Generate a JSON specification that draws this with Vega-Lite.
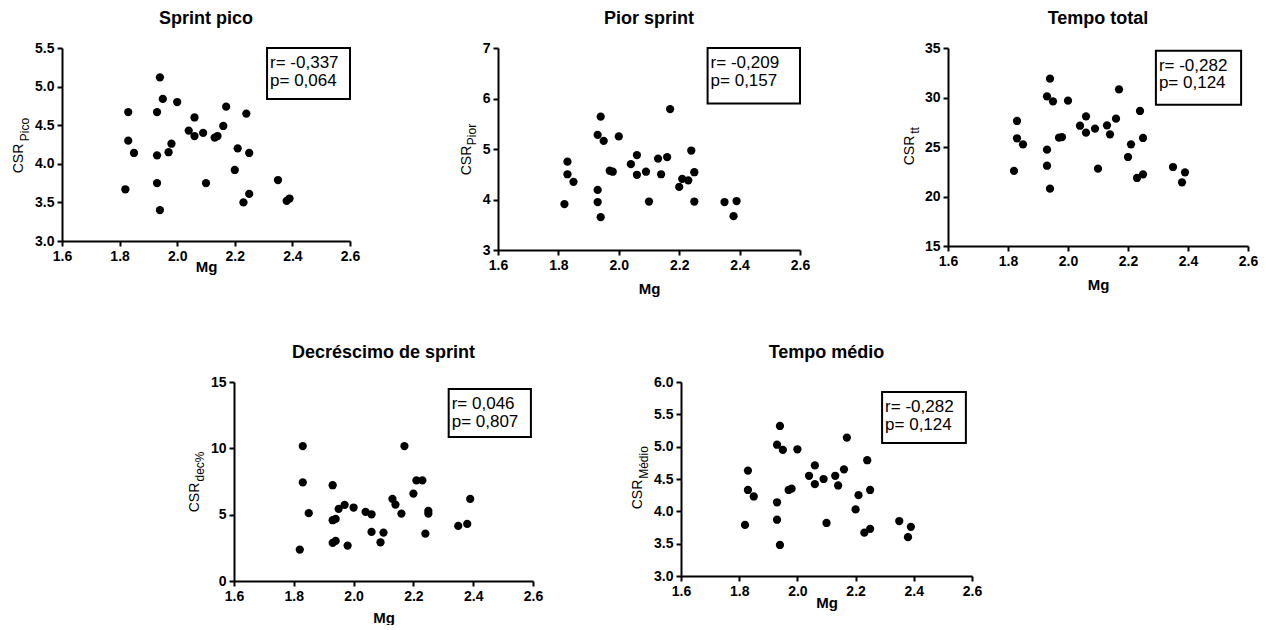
{
  "$schema": "https://vega.github.io/schema/vega-lite/v6.json",
  "padding": {"left": 11, "top": 10, "right": 0, "bottom": 0},
  "config": {
    "font": "Liberation Sans",
    "view": {"stroke": null},
    "axis": {"grid": false, "domainColor": "black", "domainWidth": 2, "tickColor": "black", "tickWidth": 2, "tickSize": 5, "labelColor": "black", "labelFont": "Liberation Sans", "labelFontSize": 14, "labelFontWeight": "bold", "labelPadding": 3, "labelFlush": false, "labelOverlap": false, "titleColor": "black", "titleFont": "Liberation Sans"},
    "axisX": {"titleFontSize": 15, "titleFontWeight": "bold", "titleBaseline": "alphabetic"},
    "axisY": {"titleFontSize": 14, "titleFontWeight": "normal", "titleAngle": 270, "titleAlign": "center", "titleBaseline": "alphabetic"},
    "title": {"font": "Liberation Sans", "fontSize": 18, "fontWeight": "bold", "color": "black", "anchor": "middle", "frame": "group", "offset": 13, "baseline": "alphabetic"}
  },
  "datasets": {
    "pts": [
      {"mg": 1.82, "pico": 3.67, "pior": 3.91, "tt": 22.58, "dec": 2.37, "medio": 3.79},
      {"mg": 1.83, "pico": 4.67, "pior": 4.75, "tt": 27.63, "dec": 10.17, "medio": 4.63},
      {"mg": 1.83, "pico": 4.30, "pior": 4.50, "tt": 25.88, "dec": 7.43, "medio": 4.33},
      {"mg": 1.85, "pico": 4.14, "pior": 4.35, "tt": 25.27, "dec": 5.11, "medio": 4.23},
      {"mg": 1.93, "pico": 4.67, "pior": 5.28, "tt": 30.12, "dec": 7.22, "medio": 5.03},
      {"mg": 1.93, "pico": 4.11, "pior": 4.19, "tt": 24.73, "dec": 4.58, "medio": 4.14},
      {"mg": 1.93, "pico": 3.75, "pior": 3.95, "tt": 23.11, "dec": 2.87, "medio": 3.87},
      {"mg": 1.94, "pico": 5.12, "pior": 5.64, "tt": 31.90, "dec": 4.68, "medio": 5.32},
      {"mg": 1.94, "pico": 3.40, "pior": 3.65, "tt": 20.79, "dec": 3.02, "medio": 3.48},
      {"mg": 1.95, "pico": 4.84, "pior": 5.16, "tt": 29.61, "dec": 5.44, "medio": 4.95},
      {"mg": 1.97, "pico": 4.15, "pior": 4.57, "tt": 25.94, "dec": 5.74, "medio": 4.33},
      {"mg": 1.98, "pico": 4.26, "pior": 4.55, "tt": 26.00, "dec": 2.67, "medio": 4.35},
      {"mg": 2.00, "pico": 4.80, "pior": 5.25, "tt": 29.68, "dec": 5.54, "medio": 4.96},
      {"mg": 2.04, "pico": 4.43, "pior": 4.70, "tt": 27.15, "dec": 5.21, "medio": 4.55},
      {"mg": 2.06, "pico": 4.60, "pior": 4.88, "tt": 28.10, "dec": 5.03, "medio": 4.71},
      {"mg": 2.06, "pico": 4.36, "pior": 4.49, "tt": 26.45, "dec": 3.70, "medio": 4.42},
      {"mg": 2.09, "pico": 4.40, "pior": 4.55, "tt": 26.85, "dec": 2.92, "medio": 4.50},
      {"mg": 2.10, "pico": 3.75, "pior": 3.96, "tt": 22.81, "dec": 3.65, "medio": 3.82},
      {"mg": 2.13, "pico": 4.34, "pior": 4.81, "tt": 27.19, "dec": 6.19, "medio": 4.55},
      {"mg": 2.14, "pico": 4.36, "pior": 4.50, "tt": 26.28, "dec": 5.76, "medio": 4.40},
      {"mg": 2.16, "pico": 4.49, "pior": 4.84, "tt": 27.86, "dec": 5.08, "medio": 4.65},
      {"mg": 2.17, "pico": 4.74, "pior": 5.79, "tt": 30.82, "dec": 10.17, "medio": 5.14},
      {"mg": 2.20, "pico": 3.92, "pior": 4.25, "tt": 23.99, "dec": 6.59, "medio": 4.03},
      {"mg": 2.21, "pico": 4.20, "pior": 4.41, "tt": 25.27, "dec": 7.58, "medio": 4.25},
      {"mg": 2.23, "pico": 3.50, "pior": 4.38, "tt": 21.87, "dec": 7.58, "medio": 3.67},
      {"mg": 2.24, "pico": 4.65, "pior": 4.97, "tt": 28.64, "dec": 3.57, "medio": 4.79},
      {"mg": 2.25, "pico": 4.14, "pior": 4.54, "tt": 25.91, "dec": 5.29, "medio": 4.33},
      {"mg": 2.25, "pico": 3.61, "pior": 3.96, "tt": 22.24, "dec": 5.08, "medio": 3.73},
      {"mg": 2.35, "pico": 3.79, "pior": 3.95, "tt": 22.98, "dec": 4.15, "medio": 3.85},
      {"mg": 2.38, "pico": 3.52, "pior": 3.67, "tt": 21.43, "dec": 4.30, "medio": 3.60},
      {"mg": 2.39, "pico": 3.55, "pior": 3.97, "tt": 22.44, "dec": 6.19, "medio": 3.76}
    ]
  },
  "spacing": 48,
  "vconcat": [
    {
      "spacing": 148,
      "bounds": "flush",
      "hconcat": [
        {
          "width": 288, "height": 193,
          "title": {"text": "Sprint pico"},
          "data": {"name": "pts"},
          "layer": [
            {
              "mark": {"type": "circle", "size": 68, "color": "black", "opacity": 1},
              "encoding": {
                "x": {"field": "mg", "type": "quantitative", "scale": {"domain": [1.6, 2.6], "nice": false, "zero": false}, "axis": {"values": [1.6, 1.8, 2.0, 2.2, 2.4, 2.6], "format": ".1f", "title": "Mg", "titleY": 30}},
                "y": {"field": "pico", "type": "quantitative", "scale": {"domain": [3, 5.5], "nice": false, "zero": false}, "axis": {"values": [3, 3.5, 4, 4.5, 5, 5.5], "format": ".1f", "title": "CSR", "titleX": -40, "titleY": 110}}
              }
            },
            {
              "data": {"values": [{"label": "r= -0,337\np= 0,064"}]},
              "mark": {"type": "rect", "filled": false, "color": "black", "strokeWidth": 2},
              "encoding": {
                "x": {"datum": 2.312, "scale": {"domain": [1.6, 2.6], "nice": false, "zero": false}},
                "x2": {"datum": 2.6},
                "y": {"datum": 5.5, "scale": {"domain": [3, 5.5], "nice": false, "zero": false}, "axis": {"orient": "left", "domain": false, "ticks": false, "labels": false, "title": "Pico", "titleFontSize": 12, "titleX": -34, "titleY": 81}},
                "y2": {"datum": 4.84}
              }
            },
            {
              "data": {"values": [{"label": "r= -0,337\np= 0,064"}]},
              "mark": {"type": "text", "align": "left", "baseline": "top", "dx": 3, "dy": 7, "fontSize": 17, "lineHeight": 17.5, "lineBreak": "\n", "color": "black"},
              "encoding": {
                "x": {"datum": 2.312, "scale": {"domain": [1.6, 2.6], "nice": false, "zero": false}},
                "y": {"datum": 5.5, "scale": {"domain": [3, 5.5], "nice": false, "zero": false}, "axis": null},
                "text": {"field": "label"}
              }
            }
          ],
          "resolve": {"axis": {"y": "independent"}}
        },
        {
          "width": 302, "height": 202,
          "title": {"text": "Pior sprint"},
          "data": {"name": "pts"},
          "layer": [
            {
              "mark": {"type": "circle", "size": 68, "color": "black", "opacity": 1},
              "encoding": {
                "x": {"field": "mg", "type": "quantitative", "scale": {"domain": [1.6, 2.6], "nice": false, "zero": false}, "axis": {"values": [1.6, 1.8, 2.0, 2.2, 2.4, 2.6], "format": ".1f", "title": "Mg", "titleY": 43}},
                "y": {"field": "pior", "type": "quantitative", "scale": {"domain": [3, 7], "nice": false, "zero": false}, "axis": {"values": [3, 4, 5, 6, 7], "format": "d", "title": "CSR", "titleX": -28, "titleY": 112}}
              }
            },
            {
              "data": {"values": [{"label": "r= -0,209\np= 0,157"}]},
              "mark": {"type": "rect", "filled": false, "color": "black", "strokeWidth": 2},
              "encoding": {
                "x": {"datum": 2.294, "scale": {"domain": [1.6, 2.6], "nice": false, "zero": false}},
                "x2": {"datum": 2.6},
                "y": {"datum": 7, "scale": {"domain": [3, 7], "nice": false, "zero": false}, "axis": {"orient": "left", "domain": false, "ticks": false, "labels": false, "title": "Pior", "titleFontSize": 12, "titleX": -23, "titleY": 86}},
                "y2": {"datum": 5.9}
              }
            },
            {
              "data": {"values": [{"label": "r= -0,209\np= 0,157"}]},
              "mark": {"type": "text", "align": "left", "baseline": "top", "dx": 3, "dy": 7, "fontSize": 17, "lineHeight": 17.5, "lineBreak": "\n", "color": "black"},
              "encoding": {
                "x": {"datum": 2.294, "scale": {"domain": [1.6, 2.6], "nice": false, "zero": false}},
                "y": {"datum": 7, "scale": {"domain": [3, 7], "nice": false, "zero": false}, "axis": null},
                "text": {"field": "label"}
              }
            }
          ],
          "resolve": {"axis": {"y": "independent"}}
        },
        {
          "width": 300, "height": 198,
          "title": {"text": "Tempo total"},
          "data": {"name": "pts"},
          "layer": [
            {
              "mark": {"type": "circle", "size": 68, "color": "black", "opacity": 1},
              "encoding": {
                "x": {"field": "mg", "type": "quantitative", "scale": {"domain": [1.6, 2.6], "nice": false, "zero": false}, "axis": {"values": [1.6, 1.8, 2.0, 2.2, 2.4, 2.6], "format": ".1f", "title": "Mg", "titleY": 43}},
                "y": {"field": "tt", "type": "quantitative", "scale": {"domain": [15, 35], "nice": false, "zero": false}, "axis": {"values": [15, 20, 25, 30, 35], "format": "d", "title": "CSR", "titleX": -35, "titleY": 102}}
              }
            },
            {
              "data": {"values": [{"label": "r= -0,282\np= 0,124"}]},
              "mark": {"type": "rect", "filled": false, "color": "black", "strokeWidth": 2},
              "encoding": {
                "x": {"datum": 2.293, "scale": {"domain": [1.6, 2.6], "nice": false, "zero": false}},
                "x2": {"datum": 2.577},
                "y": {"datum": 34.73, "scale": {"domain": [15, 35], "nice": false, "zero": false}, "axis": {"orient": "left", "domain": false, "ticks": false, "labels": false, "title": "tt", "titleFontSize": 12, "titleX": -30, "titleY": 82}},
                "y2": {"datum": 29.27}
              }
            },
            {
              "data": {"values": [{"label": "r= -0,282\np= 0,124"}]},
              "mark": {"type": "text", "align": "left", "baseline": "top", "dx": 3, "dy": 7, "fontSize": 17, "lineHeight": 17.5, "lineBreak": "\n", "color": "black"},
              "encoding": {
                "x": {"datum": 2.293, "scale": {"domain": [1.6, 2.6], "nice": false, "zero": false}},
                "y": {"datum": 34.73, "scale": {"domain": [15, 35], "nice": false, "zero": false}, "axis": null},
                "text": {"field": "label"}
              }
            }
          ],
          "resolve": {"axis": {"y": "independent"}}
        }
      ]
    },
    {
      "spacing": 148,
      "bounds": "flush",
      "hconcat": [
        {
          "width": 24, "height": 10,
          "data": {"values": []},
          "mark": "point",
          "encoding": {}
        },
        {
          "width": 299, "height": 199,
          "title": {"text": "Decréscimo de sprint"},
          "data": {"name": "pts"},
          "layer": [
            {
              "mark": {"type": "circle", "size": 68, "color": "black", "opacity": 1},
              "encoding": {
                "x": {"field": "mg", "type": "quantitative", "scale": {"domain": [1.6, 2.6], "nice": false, "zero": false}, "axis": {"values": [1.6, 1.8, 2.0, 2.2, 2.4, 2.6], "format": ".1f", "title": "Mg", "titleY": 41}},
                "y": {"field": "dec", "type": "quantitative", "scale": {"domain": [0, 15], "nice": false, "zero": false}, "axis": {"values": [0, 5, 10, 15], "format": "d", "title": "CSR", "titleX": -36, "titleY": 115}}
              }
            },
            {
              "data": {"values": [{"label": "r= 0,046\np= 0,807"}]},
              "mark": {"type": "rect", "filled": false, "color": "black", "strokeWidth": 2},
              "encoding": {
                "x": {"datum": 2.318, "scale": {"domain": [1.6, 2.6], "nice": false, "zero": false}},
                "x2": {"datum": 2.593},
                "y": {"datum": 14.47, "scale": {"domain": [0, 15], "nice": false, "zero": false}, "axis": {"orient": "left", "domain": false, "ticks": false, "labels": false, "title": "dec%", "titleFontSize": 12, "titleX": -31, "titleY": 84}},
                "y2": {"datum": 10.85}
              }
            },
            {
              "data": {"values": [{"label": "r= 0,046\np= 0,807"}]},
              "mark": {"type": "text", "align": "left", "baseline": "top", "dx": 3, "dy": 7, "fontSize": 17, "lineHeight": 17.5, "lineBreak": "\n", "color": "black"},
              "encoding": {
                "x": {"datum": 2.318, "scale": {"domain": [1.6, 2.6], "nice": false, "zero": false}},
                "y": {"datum": 14.47, "scale": {"domain": [0, 15], "nice": false, "zero": false}, "axis": null},
                "text": {"field": "label"}
              }
            }
          ],
          "resolve": {"axis": {"y": "independent"}}
        },
        {
          "width": 291, "height": 194,
          "title": {"text": "Tempo médio"},
          "data": {"name": "pts"},
          "layer": [
            {
              "mark": {"type": "circle", "size": 68, "color": "black", "opacity": 1},
              "encoding": {
                "x": {"field": "mg", "type": "quantitative", "scale": {"domain": [1.6, 2.6], "nice": false, "zero": false}, "axis": {"values": [1.6, 1.8, 2.0, 2.2, 2.4, 2.6], "format": ".1f", "title": "Mg", "titleY": 31}},
                "y": {"field": "medio", "type": "quantitative", "scale": {"domain": [3, 6], "nice": false, "zero": false}, "axis": {"values": [3, 3.5, 4, 4.5, 5, 5.5, 6], "format": ".1f", "title": "CSR", "titleX": -40, "titleY": 112}}
              }
            },
            {
              "data": {"values": [{"label": "r= -0,282\np= 0,124"}]},
              "mark": {"type": "rect", "filled": false, "color": "black", "strokeWidth": 2},
              "encoding": {
                "x": {"datum": 2.291, "scale": {"domain": [1.6, 2.6], "nice": false, "zero": false}},
                "x2": {"datum": 2.579},
                "y": {"datum": 5.845, "scale": {"domain": [3, 6], "nice": false, "zero": false}, "axis": {"orient": "left", "domain": false, "ticks": false, "labels": false, "title": "Médio", "titleFontSize": 12, "titleX": -34, "titleY": 80}},
                "y2": {"datum": 5.057}
              }
            },
            {
              "data": {"values": [{"label": "r= -0,282\np= 0,124"}]},
              "mark": {"type": "text", "align": "left", "baseline": "top", "dx": 3, "dy": 7, "fontSize": 17, "lineHeight": 17.5, "lineBreak": "\n", "color": "black"},
              "encoding": {
                "x": {"datum": 2.291, "scale": {"domain": [1.6, 2.6], "nice": false, "zero": false}},
                "y": {"datum": 5.845, "scale": {"domain": [3, 6], "nice": false, "zero": false}, "axis": null},
                "text": {"field": "label"}
              }
            }
          ],
          "resolve": {"axis": {"y": "independent"}}
        }
      ]
    }
  ]
}
